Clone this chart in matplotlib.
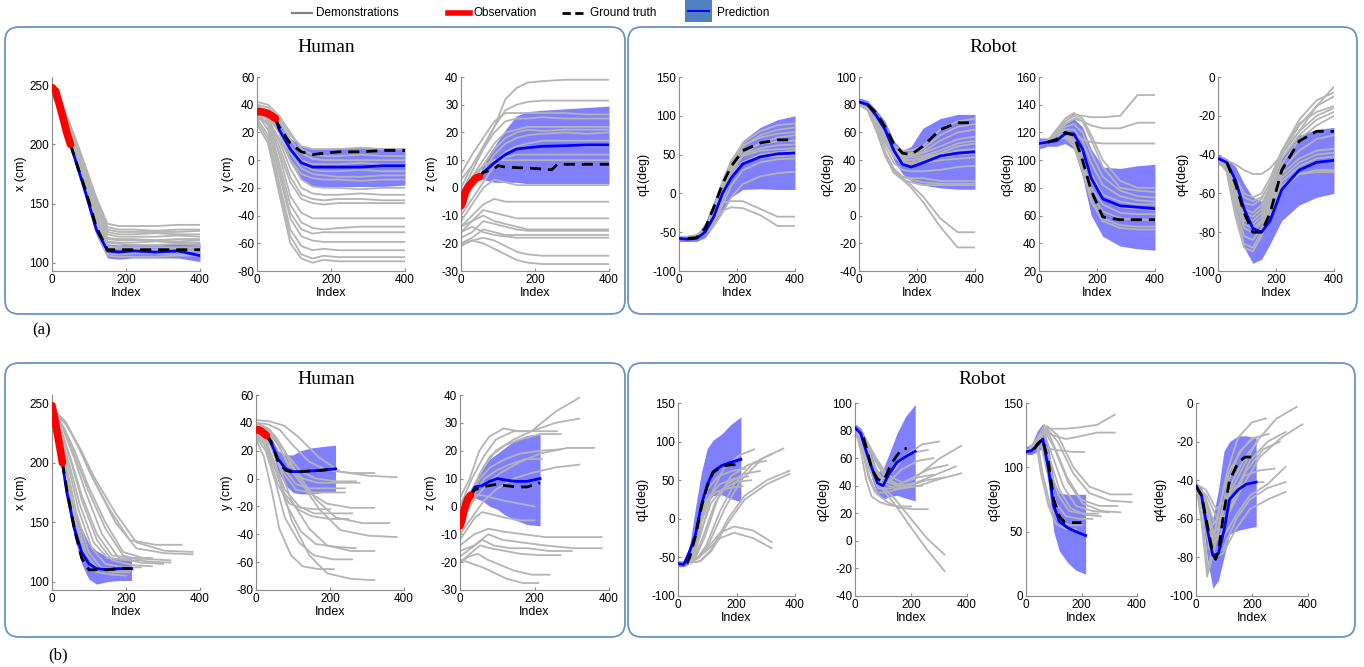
import matplotlib
matplotlib.use('Agg')
import matplotlib.pyplot as plt
from matplotlib.patches import FancyBboxPatch, Rectangle

plt.rcParams['font.family'] = ['Liberation Sans', 'DejaVu Sans']
plt.rcParams['axes.unicode_minus'] = False

# index grids
XA = [0, 30, 60, 90, 120, 150, 180, 220, 280, 340, 400]      # demos, row (a)
XPA = [50, 60, 90, 120, 150, 180, 220, 280, 340, 400]        # human prediction, row (a)
XRA = [0, 30, 60, 90, 120, 150, 180, 220, 280, 340, 400]     # robot prediction, row (a)
GTRA = [30, 60, 90, 120, 150, 180, 220, 280, 340, 400]       # robot ground truth, row (a)
FB = [0, 0.1, 0.2, 0.3, 0.45, 0.6, 0.8, 1.0]                 # demo fraction of length, row (b)
XPB = [28, 40, 60, 80, 100, 120, 150, 180, 215]              # human prediction, row (b)
XRB = [0, 20, 40, 60, 80, 100, 120, 150, 180, 215]           # robot prediction, row (b)

# ---------------- row (a) ----------------
a_x_demo = [
    [248, 232, 208, 182, 155, 133, 131, 131, 131, 132, 132],
    [246, 230, 206, 180, 153, 130, 128, 128, 127, 128, 128],
    [245, 229, 205, 178, 150, 128, 126, 126, 126, 126, 127],
    [247, 230, 204, 176, 148, 126, 124, 124, 125, 124, 124],
    [244, 228, 203, 175, 146, 124, 122, 122, 122, 123, 122],
    [246, 229, 202, 173, 143, 121, 120, 120, 119, 120, 120],
    [245, 227, 200, 171, 141, 120, 119, 119, 119, 118, 119],
    [243, 226, 199, 169, 139, 118, 117, 117, 118, 117, 117],
    [246, 228, 200, 170, 138, 117, 116, 115, 115, 116, 115],
    [244, 226, 198, 167, 135, 114, 113, 113, 113, 113, 113],
    [245, 227, 198, 166, 133, 113, 112, 112, 111, 112, 112],
    [243, 225, 196, 164, 130, 110, 109, 110, 110, 110, 110],
    [244, 226, 196, 163, 128, 108, 107, 108, 108, 107, 108],
    [242, 224, 195, 162, 126, 106, 105, 105, 105, 106, 106],
]
a_x_obs_i = [0, 10, 25, 40, 50]
a_x_obs = [248, 245, 228, 210, 200]
a_x_mean = [200, 190, 160, 128, 110, 109, 110, 109, 110, 106]
a_x_gt = [200, 190, 162, 130, 111, 111, 111, 111, 111, 111]
a_x_lo = [197, 186, 155, 123, 104, 103, 104, 104, 104, 101]
a_x_hi = [203, 194, 165, 133, 116, 115, 116, 115, 116, 117]

a_y_demo = [
    [40, 38, 30, 18, 10, 8, 8, 8, 9, 8, 8],
    [42, 40, 32, 20, 8, 4, 3, 3, 4, 3, 3],
    [38, 36, 28, 15, 5, 1, 0, 0, 0, 0, 0],
    [35, 33, 24, 10, 0, -3, -3, -3, -2, -3, -3],
    [36, 34, 22, 8, -3, -7, -8, -8, -7, -8, -8],
    [33, 31, 20, 5, -6, -10, -11, -12, -12, -11, -11],
    [30, 28, 16, 0, -10, -13, -14, -14, -15, -14, -14],
    [38, 34, 20, 0, -14, -19, -20, -20, -21, -20, -20],
    [34, 30, 14, -6, -20, -24, -25, -25, -24, -25, -25],
    [36, 30, 10, -12, -25, -28, -29, -28, -28, -29, -29],
    [32, 26, 6, -16, -28, -31, -32, -31, -31, -31, -31],
    [40, 32, 4, -26, -38, -42, -42, -42, -42, -42, -42],
    [37, 28, -2, -32, -45, -49, -50, -49, -48, -48, -48],
    [35, 25, -6, -38, -50, -53, -52, -52, -52, -52, -52],
    [33, 22, -10, -42, -55, -58, -59, -59, -59, -59, -59],
    [30, 18, -16, -50, -62, -65, -64, -65, -65, -65, -65],
    [28, 15, -20, -55, -68, -71, -69, -70, -70, -70, -70],
    [26, 12, -24, -60, -71, -74, -72, -73, -73, -73, -73],
]
a_y_obs_i = [0, 10, 20, 30, 40, 50]
a_y_obs = [35, 35, 34.5, 33.5, 32, 30]
a_y_mean = [30, 22, 8, -2, -5, -5, -5, -5, -4, -4]
a_y_gt = [30, 24, 12, 6, 4, 5, 6, 6, 7, 7]
a_y_lo = [29, 18, -2, -14, -19, -19, -19, -19, -19, -18]
a_y_hi = [31, 27, 16, 10, 8, 8, 9, 9, 9, 9]

a_z_demo = [
    [0, 8, 15, 22, 32, 36, 38, 38.5, 39, 39, 39],
    [-2, 6, 14, 22, 28, 30, 31, 31.5, 31.5, 31.5, 31.5],
    [5, 12, 18, 24, 27, 27, 27, 27, 27, 26.5, 26.5],
    [3, 8, 14, 20, 24, 25, 25, 25.5, 25, 25, 25],
    [-3, 4, 10, 16, 20, 21, 22, 22, 22, 22, 22],
    [-5, 2, 8, 14, 18, 20, 21, 20.5, 21, 21, 21],
    [-8, 0, 6, 12, 16, 18, 19, 19.5, 20, 19.5, 20],
    [-6, 2, 5, 9, 13, 15, 16, 17, 17, 17, 17],
    [-10, -4, 2, 8, 12, 14, 15, 15, 15, 15, 15],
    [-4, 2, 6, 9, 11, 12, 12, 12, 12, 12, 12],
    [-2, 4, 8, 10, 10, 10, 10, 10, 10, 10, 10],
    [-12, -6, 0, 3, 2, 1, 1, 1, 1, 1, 1],
    [-14, -10, -6, -4, -5, -5, -5, -5, -5, -5, -5],
    [-16, -12, -8, -9, -10, -11, -11, -11, -11, -11, -11],
    [-14, -12, -10, -12, -13, -14, -15, -15, -15, -15, -15],
    [-18, -16, -12, -13, -14, -15, -15.5, -15.5, -15.5, -15.5, -15.5],
    [-20, -18, -15, -16, -17, -17, -17, -17, -17, -17, -17],
    [-16, -14, -16, -17, -17.5, -18, -18, -18, -18, -18, -18],
    [-21, -19, -18, -19, -21, -23, -24, -24.5, -24.5, -24.5, -24.5],
    [-20, -19, -20, -22, -24, -26, -27, -27.5, -27.5, -27.5, -27.5],
]
a_z_obs_i = [0, 5, 10, 20, 30, 40, 50]
a_z_obs = [-6.5, -5, -2, 0.5, 2, 3.5, 4]
a_z_mean = [4, 5.5, 9, 12, 14, 14.5, 15, 15.2, 15.5, 15.5]
a_z_gt_i = [50, 60, 90, 100, 120, 200, 245, 260, 400]
a_z_gt = [4, 5.5, 7, 8, 7.5, 7, 6.5, 8.5, 8.5]
a_z_lo = [3.5, 3, 2, 2, 2, 1.5, 1.5, 1.5, 1.5, 1.5]
a_z_hi = [4.5, 9, 15, 21, 26, 27.5, 28, 28.5, 29, 29.5]

a_q1_demo = [
    [-56, -57, -55, -48, -25, 10, 40, 65, 80, 88, 90],
    [-57, -57, -56, -50, -28, 5, 35, 60, 75, 82, 85],
    [-56, -56, -54, -45, -20, 15, 42, 62, 72, 77, 79],
    [-58, -58, -57, -52, -35, -5, 25, 50, 65, 72, 75],
    [-57, -57, -55, -47, -25, 8, 35, 55, 64, 67, 68],
    [-56, -56, -55, -50, -32, 0, 30, 50, 58, 62, 63],
    [-57, -56, -54, -46, -26, 5, 32, 48, 55, 57, 58],
    [-58, -57, -56, -50, -35, -8, 20, 40, 50, 53, 55],
    [-57, -57, -55, -48, -30, 0, 25, 40, 46, 48, 49],
    [-56, -56, -55, -50, -38, -15, 10, 30, 40, 44, 45],
    [-57, -57, -56, -52, -42, -25, -5, 12, 22, 26, 28],
    [-56, -56, -54, -45, -28, -12, -10, -10, -20, -30, -30],
    [-57, -57, -55, -48, -35, -22, -18, -19, -28, -42, -42],
]
a_q1_mean = [-58, -59, -58, -50, -30, 0, 20, 38, 47, 51, 52]
a_q1_gt = [-58, -57, -45, -18, 12, 35, 55, 65, 69, 69]
a_q1_lo = [-62, -62, -62, -57, -42, -22, -5, 5, 6, 5, 5]
a_q1_hi = [-54, -55, -54, -38, -10, 20, 45, 68, 85, 95, 100]

a_q2_demo = [
    [82, 80, 72, 60, 50, 47, 47, 50, 62, 68, 70],
    [81, 79, 70, 58, 48, 45, 45, 48, 58, 64, 66],
    [80, 78, 70, 57, 47, 44, 44, 46, 54, 60, 62],
    [82, 80, 71, 58, 47, 43, 43, 45, 50, 55, 57],
    [81, 79, 70, 56, 46, 42, 42, 43, 47, 52, 54],
    [80, 78, 69, 55, 45, 41, 40, 42, 45, 50, 52],
    [81, 79, 69, 55, 44, 40, 40, 41, 44, 47, 48],
    [80, 78, 68, 54, 43, 39, 38, 40, 42, 44, 45],
    [82, 79, 68, 53, 42, 38, 37, 38, 40, 41, 42],
    [81, 78, 66, 50, 38, 33, 32, 32, 33, 35, 36],
    [80, 77, 64, 46, 34, 28, 27, 27, 25, 25, 25],
    [81, 77, 63, 45, 33, 28, 26, 24, 23, 23, 23],
    [80, 76, 62, 44, 31, 26, 24, 22, 22, 22, 22],
    [81, 77, 62, 44, 32, 27, 22, 14, -2, -12, -12],
    [80, 76, 61, 43, 31, 26, 20, 10, -8, -23, -23],
]
a_q2_mean = [82, 80, 72, 62, 47, 37, 35, 38, 43, 45, 46]
a_q2_gt = [80, 74, 64, 52, 45, 44, 50, 62, 67, 67]
a_q2_lo = [79, 77, 68, 55, 40, 30, 25, 22, 20, 19, 19]
a_q2_hi = [85, 83, 76, 68, 54, 47, 50, 63, 70, 73, 73]

a_q3_demo = [
    [112, 114, 120, 128, 133, 132, 131, 131, 132, 147, 147],
    [112, 114, 119, 126, 130, 128, 125, 123, 123, 127, 127],
    [113, 114, 117, 120, 118, 115, 113, 112, 112, 112, 112],
    [112, 114, 122, 130, 134, 130, 118, 100, 85, 80, 80],
    [111, 113, 120, 128, 132, 128, 115, 95, 80, 78, 77],
    [112, 113, 118, 124, 126, 120, 105, 88, 78, 74, 73],
    [112, 114, 118, 122, 122, 114, 98, 82, 74, 71, 70],
    [113, 114, 117, 120, 118, 108, 90, 75, 70, 68, 68],
    [112, 113, 116, 119, 116, 104, 85, 72, 66, 65, 64],
    [112, 113, 116, 118, 114, 100, 80, 68, 62, 61, 61],
    [111, 113, 115, 117, 112, 96, 75, 63, 58, 57, 57],
    [112, 113, 116, 118, 113, 95, 72, 58, 53, 52, 52],
    [112, 113, 115, 116, 110, 92, 70, 56, 51, 50, 50],
]
a_q3_mean = [112, 113, 114, 119, 119, 108, 87, 72, 67, 66, 65]
a_q3_gt = [113, 115, 120, 118, 100, 78, 59, 57, 57, 57]
a_q3_lo = [108, 110, 110, 112, 108, 88, 60, 45, 38, 36, 35]
a_q3_hi = [116, 116, 120, 126, 130, 124, 108, 95, 94, 96, 97]

a_q4_demo = [
    [-42, -43, -45, -48, -50, -50, -47, -40, -28, -15, -5],
    [-42, -44, -52, -60, -62, -60, -52, -38, -22, -12, -8],
    [-43, -45, -54, -62, -64, -62, -55, -40, -25, -15, -10],
    [-42, -45, -56, -65, -66, -63, -54, -38, -24, -18, -15],
    [-42, -46, -58, -68, -70, -66, -56, -40, -28, -20, -16],
    [-43, -46, -58, -70, -72, -68, -58, -42, -30, -22, -18],
    [-42, -47, -60, -72, -74, -70, -60, -45, -32, -25, -20],
    [-42, -46, -62, -74, -76, -72, -62, -48, -38, -32, -30],
    [-43, -48, -64, -76, -78, -74, -64, -50, -42, -38, -37],
    [-42, -47, -65, -78, -80, -75, -65, -52, -44, -40, -39],
    [-42, -48, -68, -82, -84, -78, -66, -54, -46, -42, -41],
    [-42, -48, -70, -86, -88, -80, -68, -56, -50, -49, -49],
    [-43, -49, -72, -88, -90, -82, -70, -58, -50, -48, -48],
]
a_q4_mean = [-42, -44, -53, -68, -78, -80, -74, -58, -48, -44, -43]
a_q4_gt = [-44, -55, -70, -80, -80, -70, -48, -33, -28, -28]
a_q4_lo = [-45, -47, -68, -88, -96, -94, -86, -74, -66, -62, -60]
a_q4_hi = [-40, -42, -46, -55, -62, -64, -56, -42, -30, -27, -26]

# ---------------- row (b) ----------------
b_x_len = [350, 380, 380, 320, 320, 300, 270, 270, 250, 240, 220, 210, 200]
b_x_demo = [
    [245, 235, 215, 190, 160, 135, 131, 131],
    [244, 232, 212, 188, 158, 133, 126, 125],
    [246, 234, 210, 185, 150, 128, 124, 123],
    [244, 230, 208, 182, 150, 125, 119, 118],
    [245, 228, 204, 178, 145, 122, 117, 116],
    [243, 228, 204, 176, 140, 120, 116, 115],
    [245, 226, 200, 172, 140, 122, 120, 120],
    [244, 224, 198, 168, 135, 118, 114, 113],
    [245, 222, 195, 165, 133, 120, 118, 118],
    [243, 220, 192, 160, 128, 115, 112, 112],
    [245, 220, 190, 158, 125, 112, 110, 110],
    [244, 218, 188, 155, 122, 110, 108, 108],
    [246, 220, 190, 155, 120, 108, 106, 105],
]
b_x_obs_i = [0, 8, 16, 24, 28]
b_x_obs = [248, 236, 222, 208, 200]
b_x_mean = [200, 175, 145, 125, 115, 111, 110, 111, 111]
b_x_gt = [200, 178, 145, 120, 110, 110, 110, 111, 111]
b_x_lo = [199, 172, 138, 115, 102, 98, 100, 101, 101]
b_x_hi = [201, 180, 160, 145, 132, 126, 121, 120, 120]

b_y_len = [380, 320, 270, 280, 240, 240, 320, 200, 260, 250, 360, 380, 270, 320, 260, 210, 320]
b_y_demo = [
    [42, 41, 38, 30, 15, 5, 2, 1],
    [40, 39, 35, 25, 12, 6, 4, 4],
    [38, 36, 30, 18, 5, 0, -2, -2],
    [36, 34, 26, 12, 0, -3, -3, -3],
    [34, 30, 20, 8, -4, -7, -7, -7],
    [36, 32, 20, 5, -8, -10, -10, -10],
    [40, 36, 22, 5, -10, -18, -21, -21],
    [32, 26, 12, -5, -18, -21, -22, -22],
    [35, 28, 10, -8, -20, -25, -25, -25],
    [30, 24, 8, -10, -22, -27, -29, -29],
    [38, 34, 22, 5, -15, -28, -32, -32],
    [40, 35, 20, 0, -22, -37, -41, -42],
    [34, 26, 6, -18, -38, -47, -49, -50],
    [36, 28, 8, -16, -36, -48, -52, -52],
    [30, 20, -2, -28, -46, -55, -58, -58],
    [28, 16, -8, -36, -55, -63, -65, -65],
    [32, 22, 0, -30, -55, -68, -72, -73],
]
b_y_obs_i = [0, 7, 14, 21, 28]
b_y_obs = [35, 35, 34, 32.5, 31]
b_y_mean = [31, 26, 14, 7, 5, 5, 5.5, 6, 7]
b_y_gt = [31, 27, 12, 6, 4.5, 5, 5.5, 6, 7]
b_y_lo = [30, 22, 5, -5, -10, -11, -11, -10, -10]
b_y_hi = [32, 30, 20, 17, 17, 20, 22, 23, 24]

b_z_len = [320, 320, 260, 270, 360, 270, 220, 320, 200, 200, 380, 380, 300, 270, 240, 210]
b_z_demo = [
    [0, 10, 18, 24, 27, 27, 34, 39],
    [-2, 6, 14, 20, 24, 27, 30, 31.5],
    [3, 10, 20, 25, 28, 27, 27, 27],
    [-4, 4, 12, 18, 22, 24, 26, 26],
    [-6, 2, 8, 12, 16, 19, 21, 21],
    [-2, 5, 10, 14, 17, 19, 20, 20.5],
    [-8, 0, 6, 10, 13, 15, 17, 17],
    [-10, -4, 2, 6, 10, 12, 14, 15],
    [-6, 0, 4, 4, 3, 2, 1, 0],
    [-12, -8, -4, -2, -3, -4, -5, -5],
    [-14, -10, -8, -9, -10, -11, -11, -11],
    [-16, -14, -10, -12, -13, -14, -15, -15],
    [-18, -15, -12, -14, -15, -15, -16, -16],
    [-20, -17, -14, -15, -16, -17, -17.5, -17.5],
    [-20, -18, -17, -19, -21, -23, -24.5, -24.5],
    [-19, -20, -21, -22, -24, -26, -27.5, -27.5],
]
b_z_obs_i = [0, 5, 10, 15, 20, 28]
b_z_obs = [-7, -5, -2, 0.5, 2.5, 4]
b_z_mean = [4, 7, 7.5, 9, 10, 9.5, 9, 9, 10]
b_z_gt = [4, 6, 7, 7.5, 8, 7.5, 7, 7, 8.5]
b_z_lo = [3.5, 3, 2, 0, -1, -3, -5, -6.5, -7]
b_z_hi = [4.5, 9, 14, 17, 19, 21, 24, 25.5, 26]

b_q1_len = [260, 360, 320, 300, 230, 280, 380, 380, 240, 250, 220, 320, 320]
b_q1_demo = [
    [-57, -57, -50, -20, 35, 65, 82, 90],
    [-56, -56, -50, -30, 15, 50, 78, 91],
    [-57, -56, -52, -35, 10, 45, 72, 84],
    [-58, -57, -50, -25, 25, 55, 70, 75],
    [-57, -56, -45, -10, 40, 55, 62, 65],
    [-56, -56, -50, -25, 20, 45, 58, 62],
    [-57, -57, -55, -40, 0, 30, 50, 62],
    [-58, -57, -55, -42, -5, 25, 45, 58],
    [-57, -56, -46, -15, 30, 45, 52, 55],
    [-56, -56, -48, -20, 20, 38, 48, 50],
    [-57, -56, -45, -15, 25, 35, 40, 42],
    [-57, -57, -52, -40, -18, -10, -15, -30],
    [-56, -56, -52, -42, -25, -18, -25, -38],
]
b_q1_mean = [-58, -59, -42, -20, 18, 44, 61, 69, 73, 77]
b_q1_gt_i = [30, 40, 60, 80, 100, 120, 150, 180, 200]
b_q1_gt = [-58, -50, -22, 15, 42, 60, 68, 70, 70]
b_q1_lo = [-62, -62, -58, -40, -5, 20, 30, 31, 26, 22]
b_q1_hi = [-54, -55, -35, 15, 60, 91, 102, 110, 122, 132]

b_q2_len = [300, 380, 260, 280, 330, 360, 380, 280, 320, 240, 200, 260, 320, 320]
b_q2_demo = [
    [82, 72, 55, 45, 50, 62, 70, 72],
    [81, 74, 60, 48, 42, 48, 60, 69],
    [82, 70, 52, 42, 48, 58, 64, 66],
    [80, 70, 52, 40, 44, 52, 58, 60],
    [81, 72, 56, 44, 40, 45, 52, 55],
    [82, 73, 58, 46, 40, 42, 48, 54],
    [80, 72, 58, 45, 38, 40, 45, 49],
    [81, 70, 50, 38, 38, 42, 46, 48],
    [80, 71, 54, 42, 38, 40, 44, 46],
    [82, 68, 46, 35, 35, 37, 39, 40],
    [81, 66, 44, 32, 28, 26, 25, 25],
    [80, 67, 46, 34, 28, 24, 23, 23],
    [81, 70, 52, 40, 30, 18, 2, -10],
    [80, 69, 50, 38, 26, 12, -6, -22],
]
b_q2_mean = [82, 78, 65, 53, 42, 40, 48, 57, 61, 65]
b_q2_gt_i = [30, 40, 60, 80, 95, 110, 130, 150, 170, 185]
b_q2_gt = [75, 68, 52, 45, 43, 47, 56, 62, 67, 67]
b_q2_lo = [79, 75, 62, 45, 34, 30, 32, 33, 31, 29]
b_q2_hi = [85, 82, 74, 62, 50, 52, 62, 78, 90, 99]

b_q3_len = [320, 320, 210, 380, 380, 330, 340, 300, 270, 260, 240, 200, 180]
b_q3_demo = [
    [112, 120, 130, 130, 130, 131, 133, 141],
    [112, 118, 128, 125, 122, 124, 127, 127],
    [112, 113, 116, 116, 114, 113, 112, 112],
    [112, 118, 132, 125, 100, 85, 79, 79],
    [112, 117, 130, 120, 95, 80, 74, 73],
    [112, 118, 133, 118, 92, 75, 70, 70],
    [111, 116, 128, 115, 88, 72, 66, 65],
    [112, 117, 129, 112, 85, 70, 66, 65],
    [112, 116, 126, 110, 82, 68, 63, 62],
    [112, 116, 125, 105, 78, 66, 64, 64],
    [112, 117, 124, 100, 72, 62, 60, 60],
    [112, 116, 122, 95, 68, 58, 55, 55],
    [111, 115, 120, 95, 70, 56, 52, 52],
]
b_q3_mean = [112, 113, 117, 122, 100, 70, 58, 53, 50, 47]
b_q3_gt_i = [30, 40, 60, 80, 100, 120, 140, 200]
b_q3_gt = [114, 118, 122, 105, 75, 62, 57, 57]
b_q3_lo = [110, 110, 112, 115, 88, 50, 35, 26, 20, 17]
b_q3_hi = [116, 118, 128, 134, 118, 90, 80, 79, 79, 79]

b_q4_len = [360, 380, 250, 320, 260, 300, 280, 320, 240, 320, 320, 220, 200]
b_q4_demo = [
    [-42, -45, -55, -50, -35, -20, -8, -2],
    [-43, -48, -60, -58, -42, -28, -18, -11],
    [-42, -50, -65, -60, -35, -18, -10, -8],
    [-42, -48, -62, -62, -45, -30, -20, -15],
    [-43, -50, -68, -65, -40, -25, -18, -16],
    [-42, -50, -70, -68, -50, -35, -24, -20],
    [-42, -52, -72, -70, -50, -38, -35, -34],
    [-43, -50, -68, -70, -58, -48, -42, -33],
    [-42, -55, -76, -70, -50, -43, -41, -41],
    [-42, -54, -78, -76, -60, -50, -44, -41],
    [-43, -55, -80, -78, -65, -55, -50, -46],
    [-42, -60, -88, -75, -55, -40, -28, -20],
    [-42, -62, -90, -72, -50, -35, -25, -18],
]
b_q4_mean = [-43, -48, -65, -79, -78, -66, -50, -45, -42, -41]
b_q4_gt_i = [0, 20, 40, 60, 70, 80, 100, 120, 150, 175, 200]
b_q4_gt = [-43, -48, -63, -78, -81, -77, -56, -40, -31, -28, -28]
b_q4_lo = [-45, -55, -80, -96, -92, -80, -68, -66, -65, -64]
b_q4_hi = [-41, -44, -52, -60, -45, -25, -20, -17, -17, -18]


def stretch(lens):
    return [[f * n for f in FB] for n in lens]


def panel(ax, dx, demos, px, lo, hi, mean, gx, gt, ox, obs, ylim, yticks, ylabel):
    ax.fill_between(px, lo, hi, color='#8080ff', lw=0, zorder=1)
    for xs, ys in zip(dx, demos):
        ax.plot(xs, ys, color='#b4b4b4', lw=1.3, zorder=2)
    ax.plot(px, mean, color='#0000ff', lw=2, zorder=3)
    ax.plot(gx, gt, color='k', lw=2, dashes=(4, 2.5), zorder=4)
    if obs is not None:
        ax.plot(ox, obs, color='#ff0000', lw=5.5, solid_capstyle='round', zorder=5)
    ax.set_xlim(0, 400)
    ax.set_xticks([0, 200, 400])
    ax.set_ylim(*ylim)
    ax.set_yticks(yticks)
    ax.set_facecolor('none')
    for s in ['top', 'right']:
        ax.spines[s].set_visible(False)
    for s in ['left', 'bottom']:
        ax.spines[s].set_color('#8c8c8c')
    ax.tick_params(direction='in', length=2, color='#8c8c8c', labelcolor='k',
                   labelsize=8.5, pad=2)
    ax.set_xlabel('Index', fontsize=9, labelpad=1)
    ax.set_ylabel(ylabel, fontsize=9, labelpad=2)


W, H = 1364, 667
fig = plt.figure(figsize=(W / 100, H / 100), dpi=100)


def rect(x0, x1, top, bot):
    return [x0 / W, 1 - bot / H, (x1 - x0) / W, (bot - top) / H]


# frames, titles and legend drawn in pixel coordinates
bg = fig.add_axes([0, 0, 1, 1], zorder=-1)
bg.set_xlim(0, W)
bg.set_ylim(H, 0)
bg.axis('off')
bg.patch.set_visible(False)
for x0, x1, y0, y1 in [(5, 625, 27, 314), (628, 1357, 27, 314),
                       (5, 625, 363, 637), (628, 1355, 363, 637)]:
    bg.add_patch(FancyBboxPatch((x0, y0), x1 - x0, y1 - y0,
                                boxstyle='round,pad=0,rounding_size=14',
                                fc='none', ec='#6a93c8', lw=1.3))
serif = 'Liberation Serif'
bg.text(326, 47, 'Human', fontsize=14, family=serif, ha='center', va='center')
bg.text(993, 47, 'Robot', fontsize=14, family=serif, ha='center', va='center')
bg.text(326, 380, 'Human', fontsize=14, family=serif, ha='center', va='center')
bg.text(982, 380, 'Robot', fontsize=14, family=serif, ha='center', va='center')
bg.text(42, 330, '(a)', fontsize=12, family=serif, ha='center', va='center')
bg.text(58, 655, '(b)', fontsize=12, family=serif, ha='center', va='center')

bg.plot([292, 312], [13, 13], color='#808080', lw=1.5)
bg.text(316, 13, 'Demonstrations', fontsize=8.5, va='center')
bg.plot([448, 470], [13, 13], color='#ff0000', lw=4)
bg.text(474, 13, 'Observation', fontsize=8.5, va='center')
bg.plot([562, 583], [13, 13], color='k', lw=2, dashes=(3, 1.6))
bg.text(590, 13, 'Ground truth', fontsize=8.5, va='center')
bg.add_patch(Rectangle((685, 0), 27, 22, fc='#4f81bd', ec='none'))
bg.plot([688, 709], [11, 11], color='#0000ff', lw=1.5)
bg.text(717, 13, 'Prediction', fontsize=8.5, va='center')

# row (a)
a_demo_x = [XA] * 20
ax = fig.add_axes(rect(52, 200, 77, 271))
panel(ax, a_demo_x, a_x_demo, XPA, a_x_lo, a_x_hi, a_x_mean, XPA, a_x_gt,
      a_x_obs_i, a_x_obs, (93, 257), [100, 150, 200, 250], 'x (cm)')
ax = fig.add_axes(rect(257, 405, 77, 271))
panel(ax, a_demo_x, a_y_demo, XPA, a_y_lo, a_y_hi, a_y_mean, XPA, a_y_gt,
      a_y_obs_i, a_y_obs, (-80, 60), range(-80, 61, 20), 'y (cm)')
ax = fig.add_axes(rect(461, 609, 77, 271))
panel(ax, a_demo_x, a_z_demo, XPA, a_z_lo, a_z_hi, a_z_mean, a_z_gt_i, a_z_gt,
      a_z_obs_i, a_z_obs, (-30, 40), range(-30, 41, 10), 'z (cm)')
ax = fig.add_axes(rect(679, 795, 77, 271))
panel(ax, a_demo_x, a_q1_demo, XRA, a_q1_lo, a_q1_hi, a_q1_mean, GTRA, a_q1_gt,
      None, None, (-100, 150), range(-100, 151, 50), 'q1(deg)')
ax = fig.add_axes(rect(859, 975, 77, 271))
panel(ax, a_demo_x, a_q2_demo, XRA, a_q2_lo, a_q2_hi, a_q2_mean, GTRA, a_q2_gt,
      None, None, (-40, 100), range(-40, 101, 20), 'q2(deg)')
ax = fig.add_axes(rect(1039, 1155, 77, 271))
panel(ax, a_demo_x, a_q3_demo, XRA, a_q3_lo, a_q3_hi, a_q3_mean, GTRA, a_q3_gt,
      None, None, (20, 160), range(20, 161, 20), 'q3(deg)')
ax = fig.add_axes(rect(1218, 1334, 77, 271))
panel(ax, a_demo_x, a_q4_demo, XRA, a_q4_lo, a_q4_hi, a_q4_mean, GTRA, a_q4_gt,
      None, None, (-100, 0), range(-100, 1, 20), 'q4(deg)')

# row (b)
ax = fig.add_axes(rect(52, 200, 395, 590))
panel(ax, stretch(b_x_len), b_x_demo, XPB, b_x_lo, b_x_hi, b_x_mean, XPB, b_x_gt,
      b_x_obs_i, b_x_obs, (93, 257), [100, 150, 200, 250], 'x (cm)')
ax = fig.add_axes(rect(256, 404, 395, 590))
panel(ax, stretch(b_y_len), b_y_demo, XPB, b_y_lo, b_y_hi, b_y_mean, XPB, b_y_gt,
      b_y_obs_i, b_y_obs, (-80, 60), range(-80, 61, 20), 'y (cm)')
ax = fig.add_axes(rect(460, 609, 395, 590))
panel(ax, stretch(b_z_len), b_z_demo, XPB, b_z_lo, b_z_hi, b_z_mean, XPB, b_z_gt,
      b_z_obs_i, b_z_obs, (-30, 40), range(-30, 41, 10), 'z (cm)')
ax = fig.add_axes(rect(678, 795, 403, 596))
panel(ax, stretch(b_q1_len), b_q1_demo, XRB, b_q1_lo, b_q1_hi, b_q1_mean, b_q1_gt_i, b_q1_gt,
      None, None, (-100, 150), range(-100, 151, 50), 'q1(deg)')
ax = fig.add_axes(rect(855, 967, 403, 596))
panel(ax, stretch(b_q2_len), b_q2_demo, XRB, b_q2_lo, b_q2_hi, b_q2_mean, b_q2_gt_i, b_q2_gt,
      None, None, (-40, 100), range(-40, 101, 20), 'q2(deg)')
ax = fig.add_axes(rect(1026, 1137, 403, 596))
panel(ax, stretch(b_q3_len), b_q3_demo, XRB, b_q3_lo, b_q3_hi, b_q3_mean, b_q3_gt_i, b_q3_gt,
      None, None, (0, 150), [0, 50, 100, 150], 'q3(deg)')
ax = fig.add_axes(rect(1196, 1308, 403, 596))
panel(ax, stretch(b_q4_len), b_q4_demo, XRB, b_q4_lo, b_q4_hi, b_q4_mean, b_q4_gt_i, b_q4_gt,
      None, None, (-100, 0), range(-100, 1, 20), 'q4(deg)')

fig.savefig('out.png', dpi=100)
